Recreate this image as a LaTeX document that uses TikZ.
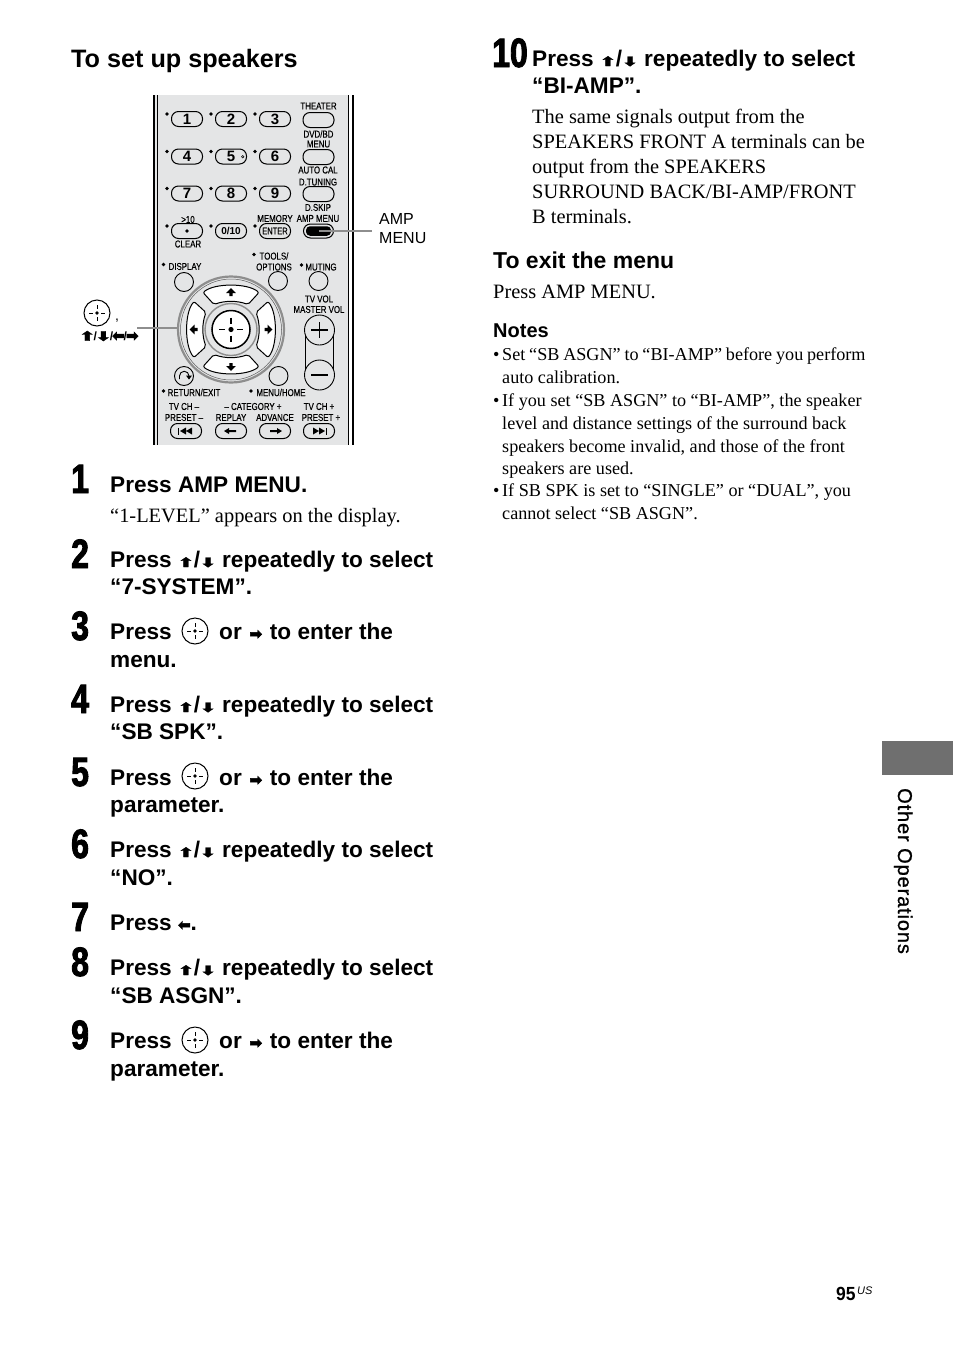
\documentclass[tikz,border=0pt]{standalone}
\usepackage{fontspec}
\usetikzlibrary{positioning}
\setmainfont{Liberation Serif}
\setsansfont{Liberation Sans}
\newfontfamily\arrowfont[FakeStretch=1.45,FakeBold=2.5]{DejaVu Sans}
\newfontfamily\sidearrowfont[FakeBold=3]{DejaVu Sans}
\newfontfamily\numfont[FakeStretch=0.78,FakeBold=2.2]{Liberation Sans Bold}
\newfontfamily\keyfont[FakeStretch=0.79,FakeBold=0.4]{Liberation Sans}
\newfontfamily\tabfont[FakeBold=1,LetterSpace=4.4]{Liberation Sans}
\newfontfamily\pagefont[FakeStretch=0.92]{Liberation Sans Bold}
\newcommand{\upk}{{\arrowfont\fontsize{13}{13}\selectfont ⬆}}
\newcommand{\dnk}{{\arrowfont\fontsize{13}{13}\selectfont ⬇}}
\newcommand{\ltk}{{\sidearrowfont\fontsize{15}{15}\selectfont ⬅}}
\newcommand{\rtk}{{\sidearrowfont\fontsize{15}{15}\selectfont ➡}}
\definecolor{panelgrey}{HTML}{E4E5E6}
\definecolor{ringgrey}{HTML}{8E8E8E}
\definecolor{tabgrey}{HTML}{6F6F6F}
\begin{document}
\begin{tikzpicture}[
        x=1pt, y=-1pt,
        every node/.style={inner sep=0pt},
        headtext/.style={anchor=base west, font=\sffamily\bfseries\fontsize{25.2}{27}\selectfont},
        subhead/.style={anchor=base west, font=\sffamily\bfseries\fontsize{23}{27}\selectfont},
        steptext/.style={anchor=base west, font=\sffamily\bfseries\fontsize{22.6}{27}\selectfont},
        bodytext/.style={anchor=base west, font=\fontsize{20.4}{25}\selectfont},
        notetext/.style={anchor=base west, font=\fontsize{18.15}{22}\selectfont},
        stepnum/.style={anchor=base west, font=\numfont\fontsize{41}{41}\selectfont},
        keylabel/.style={font=\keyfont\fontsize{10}{10}\selectfont},
        keynum/.style={font=\sffamily\bfseries\fontsize{15}{15}\selectfont},
        keybox/.style={draw, line width=1pt, fill=panelgrey, rounded corners=7pt, minimum width=31pt, minimum height=15pt},
        keyround/.style={draw, line width=0.9pt, fill=panelgrey, circle, minimum size=19pt},
        keydot/.style={circle, fill=black, minimum size=3.6pt},
        leader/.style={draw=ringgrey, line width=2.2pt},
        seticon/.pic={
            \draw[line width=1pt] (0,0) circle (13);
            \fill (0,0) circle (1.8);
            \draw[line width=0.9pt] (-8,0) -- (-4,0) (4,0) -- (8,0) (0,-8) -- (0,-4) (0,4) -- (0,8);
        },
        padarrow/.pic={
            \fill (0,-4) -- (4.8,1) -- (1.7,1) -- (1.7,4) -- (-1.7,4) -- (-1.7,1) -- (-4.8,1) -- cycle;
        }
    ]
        \useasboundingbox (0,0) rectangle (954,1352);

        % Remote panel
        \fill[panelgrey] (155,95) rectangle (349,445);
        \draw[line width=2pt] (154,95) -- (154,445);
        \draw[line width=0.7pt] (157,95) -- (157,445);
        \draw[line width=0.7pt] (348.5,95) -- (348.5,445);
        \draw[line width=2pt] (352.5,95) -- (352.5,445);

        % Number keys
        \foreach \name/\lab/\cx/\cy in {a/1/187/119, b/2/231/119, c/3/275/119, d/4/187/156.5, e/5/231/156.5, f/6/275/156.5, g/7/187/193.5, h/8/231/193.5, i/9/275/193.5}{
            \node[keybox, keynum] (key\name) at (\cx,\cy) {\lab};
            \node[keydot] (dot\name) at ([xshift=-20pt,yshift=5pt]\cx,\cy) {};
        }
        \node[keybox] (keyten) at (187,231) {};
        \node[keydot] at (187,231) {};
        \node[keydot] (dotten) at (167,226) {};
        \node[keybox, font=\sffamily\bfseries\fontsize{10}{10}\selectfont] (keyzero) at (231,231) {0/10};
        \node[keydot] (dotzero) at (211,226) {};
        \node[keybox, font=\keyfont\fontsize{9.5}{10}\selectfont] (keyenter) at (275,231) {ENTER};
        \node[keydot] (dotenter) at (255,226) {};
        \node[circle, draw, line width=0.5pt, minimum size=2.5pt] (dotfive) at (242.7,156.7) {};

        % Right column keys
        \node[keybox] (theater) at (318.5,120) {};
        \node[keybox] (dvdmenu) at (318.5,157) {};
        \node[keybox] (dskip) at (318.5,194) {};
        \node[keybox, minimum width=30pt, minimum height=14pt] (ampmenu) at (318.5,231) {};
        \node[fill=black, rounded corners=4pt, minimum width=25pt, minimum height=9.5pt] (ampfill) at (318.5,231) {};

        % Key labels
        \node[keylabel] (ltheater) at (318.5,106) {THEATER};
        \node[keylabel] (ldvd) at (318.5,134) {DVD/BD};
        \node[keylabel] (lmenu) at (318.5,144) {MENU};
        \node[keylabel] (lauto) at (318,170) {AUTO CAL};
        \node[keylabel] (ltuning) at (318,182) {D.TUNING};
        \node[keylabel] (ldskip) at (318,207.5) {D.SKIP};
        \node[keylabel] (lamp) at (318,218.5) {AMP MENU};
        \node[keylabel] (lmemory) at (275,218.5) {MEMORY};
        \node[keylabel] (lten) at (188,219.5) {>10};
        \node[keylabel] (lclear) at (188,244) {CLEAR};
        \node[keylabel] (ltools) at (274,256) {TOOLS/};
        \node[keydot] at (254,254.5) {};
        \node[keylabel] (loptions) at (274,267) {OPTIONS};
        \node[keylabel] (ldisplay) at (185,266.5) {DISPLAY};
        \node[keydot] at (163.5,264.5) {};
        \node[keylabel] (lmuting) at (321,267) {MUTING};
        \node[keydot] at (301.5,265) {};
        \node[keylabel] (lvol) at (319,299) {TV VOL};
        \node[keylabel] (lmaster) at (319,309.5) {MASTER VOL};
        \node[keylabel] (lreturn) at (194,392.5) {RETURN/EXIT};
        \node[keydot] at (163.5,391) {};
        \node[keylabel] (lhome) at (281,392.5) {MENU/HOME};
        \node[keydot] at (251,391) {};
        \node[keylabel] (lchleft) at (184,406.5) {TV CH –};
        \node[keylabel] (lpreleft) at (184,417.5) {PRESET –};
        \node[keylabel] (lcat) at (253,406.5) {– CATEGORY +};
        \node[keylabel] (lreplay) at (231,417.5) {REPLAY};
        \node[keylabel] (ladvance) at (275,417.5) {ADVANCE};
        \node[keylabel] (lchright) at (319,406.5) {TV CH +};
        \node[keylabel] (lpreright) at (321,417.5) {PRESET +};

        % Round keys
        \node[keyround] (display) at (184,282) {};
        \node[keyround] (options) at (278,281) {};
        \node[keyround] (muting) at (318.5,281) {};
        \node[keyround] (homekey) at (278.5,376) {};

        % Cursor ring
        \node[circle, draw=ringgrey, line width=2.2pt, fill=panelgrey, minimum size=106pt] (ring) at (231,329.5) {};
        \node[circle, draw=black!65, line width=0.5pt, minimum size=101pt] (ringline) at (231,329.5) {};
        \foreach \ang in {0,90,180,270}{
            \begin{scope}[shift={(231,329.5)}, rotate=\ang]
                \draw[line width=1pt, fill=white, rounded corners=2pt] (-28,-37) .. controls (-16,-46.5) and (16,-46.5) .. (28,-37) -- (17,-25) .. controls (6,-29) and (-6,-29) .. (-17,-25) -- cycle;
                \pic[transform shape] at (0,-37.5) {padarrow};
            \end{scope}
        }
        \node[circle, draw=ringgrey, line width=1.4pt, minimum size=52pt] (enterring) at (231,329.5) {};
        \node[circle, draw, line width=1.5pt, fill=white, minimum size=38pt] (enterkey) at (231,329.5) {};
        \fill (231,329.5) circle (2.6);
        \draw[line width=1.1pt] (219,329.5) -- (225,329.5) (237,329.5) -- (243,329.5) (231,317.5) -- (231,323.5) (231,335.5) -- (231,341.5);

        % Return key
        \node[keyround] (returnkey) at (184,376) {};
        \draw[line width=0.9pt] (179.5,379) -- (179.5,376) arc[start angle=180, end angle=360, radius=4.75];
        \fill (186,375.5) -- (192,375.5) -- (189,379.5) -- cycle;

        % Volume key
        \node[circle, draw, line width=0.7pt, minimum size=3.5pt] (volmark) at (320,318) {};
        \draw[line width=0.9pt] (305.5,330) -- (305.5,375) (333.5,330) -- (333.5,375);
        \node[circle, draw, line width=0.9pt, fill=panelgrey, minimum size=30pt] (volup) at (319.5,330) {};
        \node[circle, draw, line width=0.9pt, fill=panelgrey, minimum size=30pt] (voldown) at (319.5,375) {};
        \draw[line width=1.8pt] (311,330) -- (328,330) (319.5,322) -- (319.5,338) (311,375) -- (328,375);

        % Bottom keys
        \node[keybox] (prevkey) at (186,431) {};
        \node[keybox] (replaykey) at (231,431) {};
        \node[keybox] (advkey) at (275,431) {};
        \node[keybox] (nextkey) at (319,431) {};
        \fill (180,431) -- (186,427.5) -- (186,434.5) -- cycle (186,431) -- (192,427.5) -- (192,434.5) -- cycle;
        \fill (178,427.5) rectangle (179.2,434.5);
        \fill (313,427.5) -- (319,431) -- (313,434.5) -- cycle (319,427.5) -- (325,431) -- (319,434.5) -- cycle;
        \fill (325.5,427.5) rectangle (326.7,434.5);
        \fill (224,431) -- (229,428) -- (229,430) -- (236,430) -- (236,432) -- (229,432) -- (229,434) -- cycle;
        \fill (282,431) -- (277,428) -- (277,430) -- (270,430) -- (270,432) -- (277,432) -- (277,434) -- cycle;

        % Callouts
        \node[anchor=base west, font=\sffamily\fontsize{16}{16}\selectfont] (ampone) at (379,224) {AMP};
        \node[anchor=base west, font=\sffamily\fontsize{16}{16}\selectfont] (amptwo) at (379,243) {MENU};
        \coordinate (ampend) at (372,231);
        \draw[leader] (ampmenu.center) -- (ampend);
        \pic (lefticon) at (97,313) {seticon};
        \node[anchor=base west, font=\sffamily\fontsize{14}{14}\selectfont] (comma) at (115,320) {,};
        \node[anchor=center, font=\sffamily\bfseries\fontsize{12}{12}\selectfont] (cursorkeys) at (109,336) {\upk\kern-1.5pt/\kern-1.5pt\dnk\kern-1.5pt/\kern-1pt\ltk\kern-1pt/\kern-1pt\rtk};
        \coordinate (cursorend) at (137,328);
        \draw[leader] (cursorend) -- (cursorend -| ring.west);

        % Left column
        \node[headtext] (title) at (71,67) {To set up speakers};

        \node[stepnum] (numa) at (71,493) {1};
        \node[steptext] (stepa) at (110,492) {Press AMP MENU.};
        \node[bodytext] (bodya) at (110,522) {“1-LEVEL” appears on the display.};

        \node[stepnum] (numb) at (71,568) {2};
        \node[steptext] (stepb) at (110,567) {Press \upk/\dnk{} repeatedly to select};
        \node[steptext] (stepbb) at (110,594) {“7-SYSTEM”.};

        \node[stepnum] (numc) at (71,640) {3};
        \node[steptext] (stepc) at (110,639) {Press};
        \pic (iconc) at (195,631) {seticon};
        \node[steptext] (stepcr) at (219,639) {or\kern1.5pt{} \rtk\kern1.5pt{} to enter the};
        \node[steptext] (stepcc) at (110,667) {menu.};

        \node[stepnum] (numd) at (71,713) {4};
        \node[steptext] (stepd) at (110,712) {Press \upk/\dnk{} repeatedly to select};
        \node[steptext] (stepdd) at (110,739) {“SB SPK”.};

        \node[stepnum] (nume) at (71,786) {5};
        \node[steptext] (stepe) at (110,785) {Press};
        \pic (icone) at (195,776) {seticon};
        \node[steptext] (steper) at (219,785) {or\kern1.5pt{} \rtk\kern1.5pt{} to enter the};
        \node[steptext] (stepee) at (110,812) {parameter.};

        \node[stepnum] (numf) at (71,858) {6};
        \node[steptext] (stepf) at (110,857) {Press \upk/\dnk{} repeatedly to select};
        \node[steptext] (stepff) at (110,885) {“NO”.};

        \node[stepnum] (numg) at (71,931) {7};
        \node[steptext] (stepg) at (110,930) {Press \ltk.};

        \node[stepnum] (numh) at (71,976) {8};
        \node[steptext] (steph) at (110,975) {Press \upk/\dnk{} repeatedly to select};
        \node[steptext] (stephh) at (110,1003) {“SB ASGN”.};

        \node[stepnum] (numi) at (71,1049) {9};
        \node[steptext] (stepi) at (110,1048) {Press};
        \pic (iconi) at (195,1040) {seticon};
        \node[steptext] (stepir) at (219,1048) {or\kern1.5pt{} \rtk\kern1.5pt{} to enter the};
        \node[steptext] (stepii) at (110,1076) {parameter.};

        % Right column
        \node[stepnum] (numj) at (492,67) {10};
        \node[steptext] (stepj) at (532,66) {Press \upk/\dnk{} repeatedly to select};
        \node[steptext] (stepjj) at (532,93) {“BI-AMP”.};
        \node[bodytext] (bodyj) at (532,123) {The same signals output from the};
        \node[bodytext] (bodyjb) at (532,148) {SPEAKERS FRONT A terminals can be};
        \node[bodytext] (bodyjc) at (532,173) {output from the SPEAKERS};
        \node[bodytext] (bodyjd) at (532,198) {SURROUND BACK/BI-AMP/FRONT};
        \node[bodytext] (bodyje) at (532,223) {B terminals.};

        \node[subhead] (exithead) at (493,268) {To exit the menu};
        \node[bodytext] (exitbody) at (493,298) {Press AMP MENU.};

        \node[anchor=base west, font=\sffamily\bfseries\fontsize{20}{22}\selectfont] (notes) at (493,337) {Notes};
        \node[notetext] (bula) at (493,360) {•};
        \node[notetext] (notea) at (502,360) {\spaceskip=0.21em Set “SB ASGN” to “BI-AMP” before you perform};
        \node[notetext] (noteab) at (502,383) {auto calibration.};
        \node[notetext] (bulb) at (493,406) {•};
        \node[notetext] (noteb) at (502,406) {If you set “SB ASGN” to “BI-AMP”, the speaker};
        \node[notetext] (notebb) at (502,429) {level and distance settings of the surround back};
        \node[notetext] (notebc) at (502,452) {speakers become invalid, and those of the front};
        \node[notetext] (notebd) at (502,474) {speakers are used.};
        \node[notetext] (bulc) at (493,496) {•};
        \node[notetext] (notec) at (502,496) {If SB SPK is set to “SINGLE” or “DUAL”, you};
        \node[notetext] (notecb) at (502,519) {cannot select “SB ASGN”.};

        % Side tab and page number
        \node[anchor=north west, fill=tabgrey, minimum width=71pt, minimum height=34pt] (sidetab) at (882,741) {};
        \node[anchor=base west, rotate=-90, font=\tabfont\fontsize{20}{20}\selectfont] (sidelabel) at (898,788) {Other Operations};
        \node[anchor=base west, font=\pagefont\fontsize{19}{21}\selectfont] (pagenum) at (836,1300) {95};
        \node[anchor=base west, font=\sffamily\itshape\fontsize{11}{11}\selectfont] (pageus) at (857,1294) {US};
\end{tikzpicture}
\end{document}
